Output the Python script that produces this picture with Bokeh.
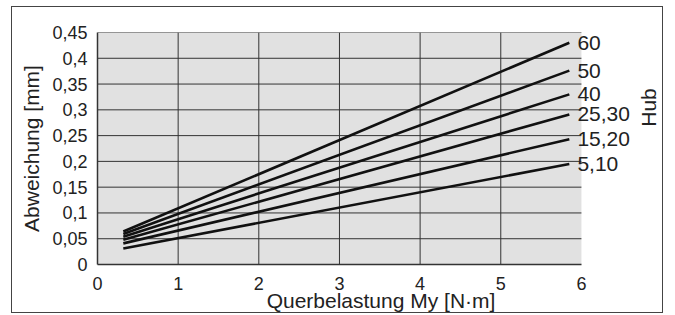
from bokeh.plotting import figure
from bokeh.models import Range1d, FixedTicker, CustomJSTickFormatter, ColumnDataSource, LabelSet, Label
from bokeh.core.properties import value
from bokeh.embed import file_html
from bokeh.resources import INLINE
import math

# Data
x_start = 0.32
x_end = 5.85
series = ["5,10", "15,20", "25,30", "40", "50", "60"]
y_start = [0.031, 0.041, 0.048, 0.054, 0.059, 0.064]
y_end = [0.195, 0.243, 0.291, 0.330, 0.376, 0.430]
x_ticks = [0, 1, 2, 3, 4, 5, 6]
y_ticks = [0, 0.05, 0.1, 0.15, 0.2, 0.25, 0.3, 0.35, 0.4, 0.45]

FONT = "Liberation Sans"
FS_TICK = "18px"
FS_LAB = "21px"
TXT = "#222222"
GRID = "#333333"

x_max = x_ticks[-1]
y_max = y_ticks[-1]

p = figure(width=652, height=307, output_backend="svg", toolbar_location=None,
           x_range=Range1d(0, 7.03), y_range=Range1d(0, y_max),
           min_border_left=85, min_border_right=0, min_border_top=25, min_border_bottom=47)
p.margin = (6, 0, 0, 11)
p.styles = {"border": "1px solid #444"}
p.background_fill_color = "white"
p.border_fill_color = "white"
p.outline_line_color = None
p.grid.visible = False

# plot area background and grid
p.quad(left=[0], right=[x_max], bottom=[0], top=[y_max], fill_color="#e1e1e1", line_color=None)
hy = y_ticks[1:]
p.segment(x0=[0] * len(hy), x1=[x_max] * len(hy), y0=hy, y1=hy, line_color=GRID, line_width=1)
vx = x_ticks[1:-1]
p.segment(x0=vx, x1=vx, y0=[0] * len(vx), y1=[y_max] * len(vx), line_color=GRID, line_width=1)

p.xaxis.ticker = FixedTicker(ticks=x_ticks)
p.yaxis.ticker = FixedTicker(ticks=y_ticks)
p.xaxis.bounds = (0, x_max)
p.yaxis.formatter = CustomJSTickFormatter(code="""
    let s = tick.toFixed(2).replace(/0+$/, '').replace(/\\.$/, '');
    return s.replace('.', ',');
""")
for ax in (p.xaxis[0], p.yaxis[0]):
    ax.major_tick_line_color = None
    ax.minor_tick_line_color = None
    ax.axis_line_color = GRID
    ax.axis_line_width = 1.5
    ax.major_label_text_font = FONT
    ax.major_label_text_font_size = FS_TICK
    ax.major_label_text_color = TXT
    ax.axis_label_text_font = FONT
    ax.axis_label_text_font_size = FS_LAB
    ax.axis_label_text_font_style = "normal"
    ax.axis_label_text_color = TXT
p.xaxis.axis_label = "Querbelastung My [N·m]"
p.yaxis.axis_label = "Abweichung [mm]"
p.xaxis.major_label_standoff = 6
p.xaxis.axis_label_standoff = -4
p.yaxis.major_label_standoff = 4
p.yaxis.axis_label_standoff = 6

for ys, ye in zip(y_start, y_end):
    p.line([x_start, x_end], [ys, ye], line_color="#111111", line_width=2.6)

src = ColumnDataSource(dict(x=[x_max] * len(series), y=y_end, t=series))
p.add_layout(LabelSet(x="x", y="y", text="t", source=src, x_offset=-4,
                      text_baseline="middle", text_align="left",
                      text_font=value(FONT), text_font_size=value(FS_LAB), text_color=TXT))
p.add_layout(Label(x=551, y=157, x_units="screen", y_units="screen", text="Hub",
                   angle=math.pi / 2, text_align="center", text_baseline="middle",
                   text_font=FONT, text_font_size=FS_LAB, text_color=TXT))

open("out.html", "w").write(file_html(p, INLINE))
